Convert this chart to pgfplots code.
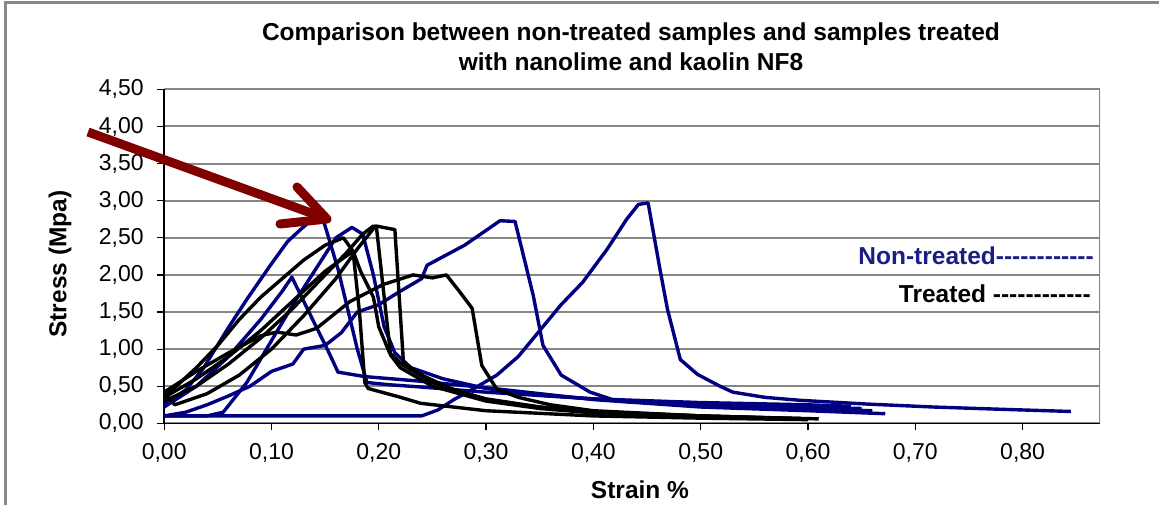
\documentclass[border=0pt]{standalone}
\usepackage{fontspec}
\setmainfont{Liberation Sans}[Ligatures=TeXOff]
\usepackage{pgfplots}
\pgfplotsset{compat=1.18}
\definecolor{navy}{RGB}{0,0,128}
\definecolor{ntext}{RGB}{28,28,132}
\definecolor{arrowred}{RGB}{128,0,0}
\definecolor{gridgray}{RGB}{135,135,135}
\newcommand\lblfont{\bfseries\fontsize{24.5}{30}\selectfont}

\begin{document}
\begin{tikzpicture}[x=1pt,y=1pt]
\useasboundingbox (0,0) rectangle (1159,505);
\draw[gridgray, line width=3pt] (5,0) -- (5,502) -- (1159,502);

\begin{axis}[
  at={(153,110)}, anchor=origin,
  scale only axis, width=936pt, height=334pt,
  xmin=0, xmax=0.8723, ymin=0, ymax=4.5,
  axis x line*=bottom, axis y line*=left,
  axis line style={black, line width=1.5pt, -},
  xtick={0,0.1,0.2,0.3,0.4,0.5,0.6,0.7,0.8},
  ytick={0,0.5,1,1.5,2,2.5,3,3.5,4,4.5},
  tick align=outside, major tick length=7pt,
  tick style={black, line width=1.2pt},
  ymajorgrids, grid style={gridgray, line width=2pt},
  tick label style={font=\fontsize{23}{27}\selectfont},
  xticklabel style={yshift=-10pt},
  yticklabel style={xshift=-10pt},
  /pgf/number format/.cd, fixed, fixed zerofill, precision=2, use comma, assume math mode=true,
]
\draw[gridgray, line width=2pt] (rel axis cs:1,0) -- (rel axis cs:1,1);

% non-treated
\addplot[navy, line width=3.4pt, line join=round] coordinates {(0,0.10) (0.10,0.10) (0.20,0.10) (0.24,0.10) (0.255,0.18) (0.27,0.32) (0.29,0.48) (0.31,0.65) (0.33,0.90) (0.35,1.25) (0.37,1.60) (0.39,1.90) (0.413,2.35) (0.431,2.75) (0.442,2.95) (0.451,2.97) (0.462,2.08) (0.469,1.54) (0.481,0.86) (0.497,0.66) (0.518,0.50) (0.53,0.42) (0.56,0.35) (0.593,0.31) (0.655,0.26) (0.717,0.22) (0.779,0.19) (0.845,0.16)};
\addplot[navy, line width=3.4pt, line join=round] coordinates {(0,0.10) (0.02,0.15) (0.04,0.25) (0.06,0.37) (0.08,0.50) (0.10,0.70) (0.12,0.80) (0.13,1.00) (0.15,1.05) (0.165,1.22) (0.18,1.50) (0.20,1.60) (0.22,1.78) (0.24,1.95) (0.245,2.13) (0.28,2.40) (0.313,2.73) (0.327,2.72) (0.344,1.72) (0.353,1.05) (0.37,0.65) (0.397,0.42) (0.422,0.30) (0.50,0.25) (0.60,0.22) (0.65,0.20)};
\addplot[navy, line width=3.4pt, line join=round] coordinates {(0,0.25) (0.02,0.45) (0.036,0.73) (0.059,1.27) (0.077,1.67) (0.099,2.13) (0.115,2.45) (0.127,2.61) (0.146,2.85) (0.162,2.08) (0.18,1.00) (0.189,0.55) (0.21,0.52) (0.239,0.49) (0.30,0.42) (0.40,0.33) (0.50,0.28) (0.60,0.25) (0.64,0.23)};
\addplot[navy, line width=3.4pt, line join=round] coordinates {(0,0.22) (0.03,0.50) (0.06,0.90) (0.09,1.40) (0.11,1.78) (0.119,1.97) (0.14,1.35) (0.152,1.00) (0.162,0.69) (0.187,0.63) (0.237,0.57) (0.30,0.48) (0.40,0.32) (0.50,0.22) (0.60,0.17) (0.672,0.13)};
\addplot[navy, line width=3.4pt, line join=round] coordinates {(0,0.10) (0.04,0.10) (0.055,0.15) (0.077,0.55) (0.099,1.09) (0.12,1.60) (0.14,2.05) (0.16,2.50) (0.175,2.64) (0.185,2.55) (0.195,2.00) (0.205,1.30) (0.215,0.95) (0.23,0.75) (0.26,0.60) (0.30,0.47) (0.35,0.38) (0.45,0.28) (0.55,0.22) (0.66,0.17)};

% treated
\addplot[black, line width=3.4pt, line join=round] coordinates {(0,0.30) (0.03,0.50) (0.06,0.80) (0.09,1.15) (0.12,1.55) (0.15,2.00) (0.17,2.30) (0.185,2.55) (0.195,2.66) (0.198,2.62) (0.211,0.92) (0.22,0.75) (0.25,0.50) (0.30,0.30) (0.35,0.20) (0.40,0.14) (0.50,0.09) (0.60,0.06)};
\addplot[black, line width=3.4pt, line join=round] coordinates {(0,0.40) (0.01,0.25) (0.04,0.40) (0.07,0.65) (0.10,1.00) (0.13,1.45) (0.16,1.95) (0.18,2.35) (0.197,2.66) (0.215,2.61) (0.223,0.82) (0.24,0.65) (0.27,0.45) (0.30,0.33) (0.35,0.22) (0.40,0.16) (0.50,0.10) (0.61,0.06)};
\addplot[black, line width=3.4pt, line join=round] coordinates {(0,0.35) (0.03,0.75) (0.05,1.05) (0.07,1.40) (0.09,1.70) (0.11,1.95) (0.13,2.20) (0.15,2.40) (0.167,2.50) (0.176,2.32) (0.182,1.50) (0.187,0.55) (0.19,0.47) (0.218,0.36) (0.239,0.27) (0.30,0.17) (0.40,0.10) (0.50,0.07) (0.60,0.05)};
\addplot[black, line width=3.4pt, line join=round] coordinates {(0,0.35) (0.03,0.60) (0.06,0.90) (0.09,1.25) (0.12,1.65) (0.15,2.05) (0.176,2.32) (0.183,2.05) (0.195,1.70) (0.20,1.30) (0.21,0.95) (0.222,0.79) (0.25,0.55) (0.30,0.32) (0.35,0.22) (0.40,0.15) (0.50,0.10) (0.60,0.06)};
\addplot[black, line width=3.4pt, line join=round] coordinates {(0,0.42) (0.03,0.70) (0.06,0.95) (0.09,1.18) (0.105,1.23) (0.123,1.19) (0.142,1.28) (0.173,1.64) (0.204,1.87) (0.232,2.00) (0.25,1.96) (0.263,2.00) (0.275,1.78) (0.287,1.55) (0.296,0.78) (0.31,0.46) (0.33,0.35) (0.36,0.25) (0.40,0.17) (0.50,0.10) (0.60,0.06)};
\end{axis}

\node[font=\lblfont, align=center] at (631,458) {Comparison between non-treated samples and samples treated\\with nanolime and kaolin NF8};
\node[font=\lblfont, rotate=90] at (60,241) {Stress (Mpa)};
\node[font=\lblfont] at (640,15) {Strain \%};
\node[font=\lblfont, text=ntext, anchor=east, inner sep=0pt] at (1094,249) {Non-treated------------};
\node[font=\lblfont, anchor=east, inner sep=0pt] at (1091,211) {Treated ------------};

\draw[arrowred, line width=9pt] (88,373) -- (322,288);
\draw[arrowred, line width=9pt, line cap=round, line join=round] (297,318) -- (327,286) -- (280,281);
\end{tikzpicture}
\end{document}
